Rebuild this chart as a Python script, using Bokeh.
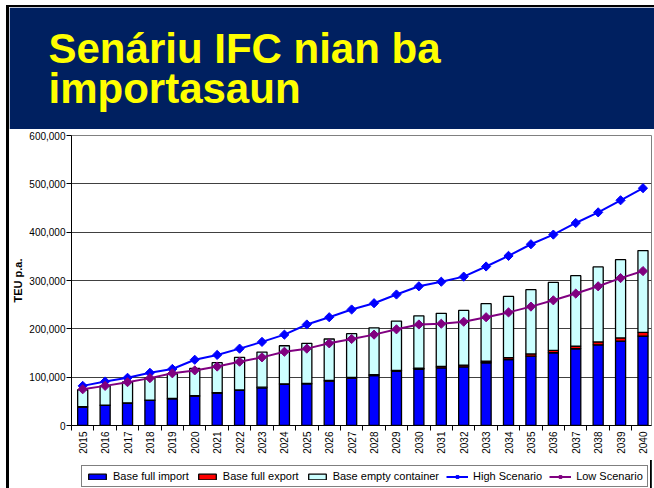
import numpy as np
from bokeh.plotting import figure
from bokeh.models import (Range1d, FixedTicker, NumeralTickFormatter, Legend,
                          LegendItem, ColumnDataSource, Title, Spacer)
from bokeh.layouts import row, column
from bokeh.embed import file_html
from bokeh.resources import INLINE

# ---------------- data ----------------
years = [2015, 2016, 2017, 2018, 2019, 2020, 2021, 2022, 2023, 2024, 2025, 2026, 2027,
         2028, 2029, 2030, 2031, 2032, 2033, 2034, 2035, 2036, 2037, 2038, 2039, 2040]
base_full_import = [38000, 41500, 46000, 51800, 55000, 60700, 67000, 72500, 78000, 85000,
                    86000, 91800, 98000, 103500, 111800, 116000, 119400, 121500, 129800,
                    136600, 143500, 150500, 158800, 167000, 174600, 185000]
base_full_export = [800, 800, 900, 900, 1000, 1000, 1000, 1100, 1200, 1200, 1300, 1300,
                    1500, 1800, 2000, 2500, 3000, 3500, 3500, 4000, 4500, 5000, 5500,
                    6000, 6500, 7500]
base_total = [74000, 82000, 90000, 98000, 107000, 118000, 130000, 141000, 152000, 165000,
              170000, 179000, 190000, 202000, 216000, 227000, 232000, 238000, 252000,
              267000, 281000, 296000, 310000, 328000, 343000, 362000]
base_empty_container = [t - i - e for t, i, e in zip(base_total, base_full_import, base_full_export)]
high_scenario = [82000, 91000, 98700, 109000, 117000, 136000, 146000, 159000, 173000, 188000,
                 209000, 224000, 240000, 253000, 271000, 288000, 297500, 308000, 329000,
                 351000, 375000, 395000, 419000, 441000, 466000, 491000]
low_scenario = [75000, 82000, 89700, 98000, 108000, 114000, 122000, 132000, 141000, 152600,
                159000, 170000, 179000, 188000, 199000, 209000, 210500, 214700, 224000,
                234000, 246000, 259000, 273000, 288000, 305000, 319500]
y_ticks = [0, 100000, 200000, 300000, 400000, 500000, 600000]
bar_names = ["Base full import", "Base full export", "Base empty container"]
line_names = ["High Scenario", "Low Scenario"]
title_text = "Senáriu IFC nian ba\nimportasaun"
y_label = "TEU p.a."

# ---------------- styles ----------------
NAVY = "#002060"
YELLOW = "#FFFF00"
BAR_COLORS = ["#0000FF", "#FF0000", "#CCFFFF"]
HIGH_COLOR = "#0000FF"
LOW_COLOR = "#800080"
FONT = "Liberation Sans"
CONTENT_W = 645
FRAME_LEFT = 60
BAR_W = 0.45
BAR_LW = 1.3

# ---------------- header ----------------
hdr = figure(width=CONTENT_W, height=122, x_axis_type=None, y_axis_type=None,
             toolbar_location=None, output_backend="svg",
             min_border_left=FRAME_LEFT, min_border_right=3,
             min_border_top=105, min_border_bottom=4)
hdr.background_fill_color = NAVY
hdr.border_fill_color = NAVY
hdr.outline_line_color = NAVY
hdr.outline_line_width = 3
hdr.grid.visible = False
hdr.title = None
title = Title(text=title_text, align="left", vertical_align="bottom", offset=-23,
              standoff=0, text_font=FONT, text_font_style="bold",
              text_font_size="42px", text_color=YELLOW, text_line_height=0.86)
hdr.add_layout(title, "above")

# ---------------- chart ----------------
src = ColumnDataSource(dict(year=years, imp=base_full_import, exp=base_full_export,
                            emp=base_empty_container))

p = figure(width=CONTENT_W, height=331, x_range=Range1d(years[0] - 0.5, years[-1] + 0.38),
           y_range=Range1d(y_ticks[0], y_ticks[-1]), toolbar_location=None,
           output_backend="svg", min_border_left=FRAME_LEFT, min_border_right=0,
           min_border_top=6, min_border_bottom=35)
p.background_fill_color = "white"
p.border_fill_color = "white"
p.outline_line_color = "#808080"
p.outline_line_width = 1

bars = p.vbar_stack(["imp", "exp", "emp"], x="year", width=BAR_W, source=src,
                    fill_color=BAR_COLORS, line_color="black", line_width=BAR_LW)

line_style = dict(line_width=2)
marker_style = dict(marker="square", angle=np.pi / 4, size=6.5)
p.line(years, high_scenario, line_color=HIGH_COLOR, **line_style)
p.scatter(years, high_scenario, fill_color=HIGH_COLOR, line_color=HIGH_COLOR, **marker_style)
p.line(years, low_scenario, line_color=LOW_COLOR, **line_style)
p.scatter(years, low_scenario, fill_color=LOW_COLOR, line_color=LOW_COLOR, **marker_style)

# x axis: labels at category centres, tick marks at boundaries
bounds = [y - 0.5 for y in years] + [years[-1] + 0.5]
p.xaxis.ticker = FixedTicker(ticks=years, minor_ticks=bounds)
p.xaxis.major_tick_out = 0
p.xaxis.major_tick_in = 0
p.xaxis.minor_tick_out = 5
p.xaxis.minor_tick_in = 0
p.xaxis.minor_tick_line_color = "black"
p.xaxis.axis_line_color = "black"
p.xaxis.major_label_orientation = np.pi / 2
p.xaxis.major_label_standoff = 1
p.xaxis.major_label_text_font = FONT
p.xaxis.major_label_text_font_size = "10px"
p.xaxis.major_label_text_color = "black"

p.yaxis.ticker = FixedTicker(ticks=y_ticks, minor_ticks=[])
p.yaxis.formatter = NumeralTickFormatter(format="0,0")
p.yaxis.major_tick_out = 5
p.yaxis.major_tick_in = 0
p.yaxis.minor_tick_line_color = None
p.yaxis.axis_line_color = "black"
p.yaxis.major_label_standoff = 1
p.yaxis.major_label_text_font = FONT
p.yaxis.major_label_text_font_size = "10px"
p.yaxis.major_label_text_color = "black"
p.yaxis.axis_label = y_label
p.yaxis.axis_label_text_font = FONT
p.yaxis.axis_label_text_font_size = "11px"
p.yaxis.axis_label_text_font_style = "bold"
p.yaxis.axis_label_text_color = "black"
p.yaxis.axis_label_standoff = 2

p.xgrid.visible = False
p.ygrid.ticker = FixedTicker(ticks=y_ticks)
p.ygrid.grid_line_color = "#404040"
p.ygrid.grid_line_width = 1

# ---------------- legend strip (own small figure; proxy renderers lie outside its view) ----
lg = figure(width=CONTENT_W, height=28, x_axis_type=None, y_axis_type=None,
            x_range=Range1d(0, 1), y_range=Range1d(0, 1),
            toolbar_location=None, output_backend="svg",
            min_border_left=FRAME_LEFT, min_border_right=0,
            min_border_top=0, min_border_bottom=0)
lg.background_fill_color = "white"
lg.border_fill_color = "white"
lg.outline_line_color = None
lg.grid.visible = False
key_src = ColumnDataSource(dict(year=years, imp=base_full_import, exp=base_full_export,
                                emp=base_empty_container, high=high_scenario,
                                low=low_scenario))
kr = [lg.vbar(x="year", top=col, width=BAR_W, fill_color=c, line_color="black",
              line_width=BAR_LW, source=key_src)
      for col, c in zip(["imp", "exp", "emp"], BAR_COLORS)]
k_hl = lg.line(x="year", y="high", line_color=HIGH_COLOR, source=key_src, **line_style)
k_hm = lg.scatter(x="year", y="high", fill_color=HIGH_COLOR, line_color=HIGH_COLOR,
                  source=key_src, **marker_style)
k_ll = lg.line(x="year", y="low", line_color=LOW_COLOR, source=key_src, **line_style)
k_lm = lg.scatter(x="year", y="low", fill_color=LOW_COLOR, line_color=LOW_COLOR,
                  source=key_src, **marker_style)
items = [LegendItem(label=bar_names[0], renderers=[kr[0]]),
         LegendItem(label=bar_names[1], renderers=[kr[1]]),
         LegendItem(label=bar_names[2], renderers=[kr[2]]),
         LegendItem(label=line_names[0], renderers=[k_hl, k_hm]),
         LegendItem(label=line_names[1], renderers=[k_ll, k_lm])]
legend = Legend(items=items, location=(10, 1), orientation="horizontal",
                label_text_font=FONT, label_text_font_size="11px",
                label_text_color="black", glyph_width=22, glyph_height=7,
                label_standoff=5, spacing=7, padding=4, margin=0,
                label_height=12, border_line_color="black", border_line_width=1,
                background_fill_color="white", background_fill_alpha=1)
lg.add_layout(legend, "center")

left_white = Spacer(width=6, height=488)
black_strip = column(Spacer(width=3, height=5),
                     Spacer(width=3, height=483, styles={"background-color": "black"}))
content = column(Spacer(width=CONTENT_W, height=5),
                 Spacer(width=CONTENT_W, height=2, styles={"background-color": "black"}),
                 hdr, p, lg)
layout = row(left_white, black_strip, content)

open("out.html", "w").write(file_html(layout, INLINE))
